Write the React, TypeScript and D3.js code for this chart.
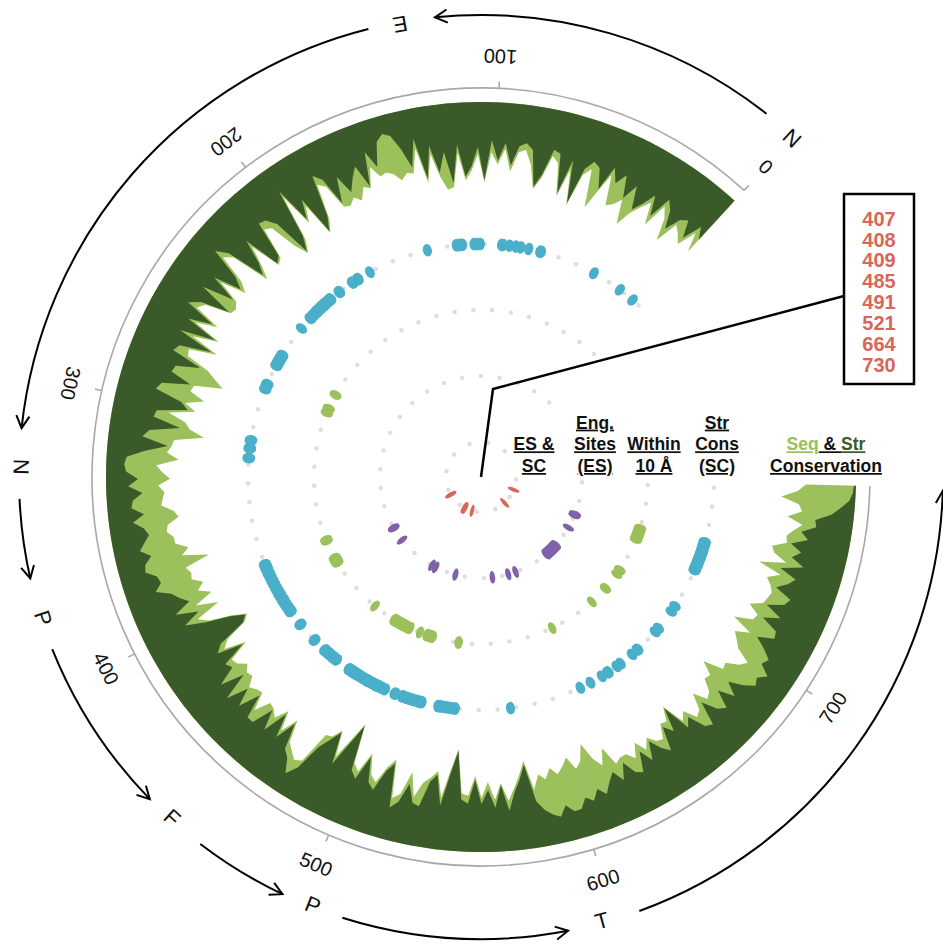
import React from 'react';
import * as d3 from 'd3';

// sequence length (residues) and step of the conservation profiles
const seqLength = 780;
const consStep = 3;

// sequence conservation (light green), one value every 3 residues from 0 to 780
const seqCons = [
  69, 50, 70, 62, 56, 80, 58, 48, 74, 52,
  62, 72, 88, 64, 72, 76, 46, 66, 86, 48,
  56, 90, 55, 84, 52, 46, 70, 82, 58, 45,
  48, 68, 46, 62, 50, 80, 52, 68, 78, 50,
  84, 86, 72, 48, 76, 40, 64, 62, 68, 60,
  56, 58, 46, 66, 62, 74, 68, 74, 72, 46,
  40, 76, 88, 52, 68, 32, 80, 92, 78, 50,
  46, 78, 82, 50, 70, 84, 44, 36, 66, 76,
  50, 74, 78, 76, 50, 44, 72, 50, 80, 54,
  84, 56, 58, 82, 92, 102, 74, 72, 88, 70,
  82, 56, 74, 80, 95, 66, 64, 60, 72, 50,
  56, 64, 52, 58, 56, 54, 66, 70, 58, 56,
  62, 62, 74, 66, 92, 66, 70, 68, 78, 70,
  82, 62, 84, 58, 68, 90, 104, 98, 74, 66,
  88, 66, 68, 76, 70, 72, 62, 66, 68, 50,
  66, 64, 58, 72, 52, 70, 48, 42, 36, 40,
  74, 76, 86, 60, 82, 102, 62, 56, 78, 58,
  52, 70, 80, 42, 48, 72, 48, 64, 70, 78,
  52, 80, 102, 58, 56, 76, 54, 70, 52, 68,
  50, 62, 74, 88, 58, 72, 66, 76, 68, 74,
  82, 68, 74, 90, 72, 62, 78, 58, 62, 62,
  54, 68, 56, 66, 58, 56, 70, 68, 82, 58,
  66, 52, 56, 72, 58, 62, 74, 72, 86, 66,
  68, 56, 50, 66, 72, 78, 64, 86, 68, 66,
  78, 66, 64, 62, 66, 72, 60, 84, 58, 72,
  76, 62, 64, 58, 50, 66, 52, 56, 74, 58,
  50
];

// structural conservation (dark green), same positions
const strCons = [
  53, 42, 62, 45, 50, 66, 48, 40, 64, 44,
  58, 68, 45, 62, 40, 52, 38, 64, 44, 40,
  50, 88, 45, 81, 42, 40, 66, 80, 44, 38,
  42, 62, 40, 58, 38, 78, 45, 64, 74, 42,
  80, 48, 68, 40, 72, 30, 58, 38, 22, 18,
  24, 48, 30, 64, 40, 50, 62, 42, 68, 38,
  30, 72, 86, 45, 64, 25, 75, 90, 50, 40,
  38, 75, 80, 42, 66, 78, 38, 26, 58, 70,
  42, 70, 38, 74, 45, 34, 66, 42, 76, 40,
  78, 46, 42, 74, 50, 48, 70, 42, 38, 66,
  74, 44, 42, 70, 40, 34, 60, 38, 20, 18,
  20, 32, 22, 36, 26, 24, 36, 24, 34, 38,
  32, 26, 36, 28, 26, 36, 38, 30, 44, 50,
  58, 40, 62, 44, 64, 88, 102, 96, 66, 58,
  84, 58, 62, 42, 66, 38, 60, 42, 64, 40,
  40, 62, 42, 68, 44, 66, 40, 34, 20, 32,
  60, 72, 84, 52, 78, 100, 55, 48, 74, 50,
  44, 66, 76, 32, 40, 60, 42, 40, 66, 74,
  44, 76, 100, 52, 48, 72, 48, 62, 44, 66,
  40, 58, 70, 84, 46, 36, 30, 26, 36, 28,
  28, 38, 32, 42, 34, 44, 52, 40, 56, 42,
  38, 58, 44, 62, 50, 42, 66, 56, 80, 50,
  58, 40, 36, 60, 44, 38, 56, 40, 54, 40,
  30, 34, 26, 38, 34, 44, 56, 40, 42, 60,
  44, 62, 46, 42, 60, 50, 44, 62, 40, 54,
  46, 58, 42, 50, 36, 38, 22, 14, 6, 3,
  2
];

// residues in each inner track
const strConsSites = [
  5, 15, 34, 69, 70, 77, 82, 85, 89, 93, 94, 107, 108, 109, 110, 111, 118, 119, 120, 121, 122, 140,
  178, 186, 187, 190, 191, 200, 201, 207, 208, 209, 211, 212, 213, 214, 215, 216, 218, 219, 220, 222,
  224, 225, 233, 253, 254, 255, 256, 257, 258, 259, 260, 261, 273, 274, 276, 277, 309, 310, 314, 315,
  320, 321, 387, 388, 389, 390, 391, 393, 394, 396, 398, 399, 401, 403, 405, 407, 408, 409, 411, 412,
  413, 415, 417, 419, 420, 421, 430, 431, 443, 444, 452, 453, 455, 457, 459, 460, 462, 471, 472, 473,
  474, 475, 476, 477, 478, 480, 482, 484, 485, 486, 488, 490, 491, 492, 493, 495, 497, 503, 504, 508,
  509, 511, 513, 515, 517, 519, 520, 521, 531, 532, 533, 535, 537, 539, 541, 542, 576, 621, 628, 636,
  640, 641, 647, 650, 659, 663, 664, 679, 682, 695, 699, 724, 725, 726, 727, 728, 729, 730, 731, 732,
  733, 734, 735, 736, 737, 738, 739, 740, 741, 742, 743
];
const within10Sites = [
  258, 259, 271, 272, 275, 276, 387, 388, 389, 404, 405, 406, 407, 408, 409, 410, 459, 479, 480, 481,
  482, 483, 484, 485, 486, 488, 489, 490, 491, 492, 494, 495, 504, 510, 511, 512, 513, 514, 515, 516,
  538, 539, 621, 662, 678, 679, 694, 698, 699, 728, 729, 730, 731, 732, 733, 734, 735, 736, 737, 738, 739
];
const engSites = [
  407, 408, 409, 429, 485, 491, 521, 574, 597, 608, 658, 660, 662, 664, 666, 668, 670, 672, 674, 676,
  678, 708, 727, 728, 729, 730
];
const esAndScSites = [407, 408, 409, 485, 491, 521, 664, 730];

const axisTicks = [0, 100, 200, 300, 400, 500, 600, 700];

// domains around the outside
const domainLabels = ['N', 'E', 'N', 'P', 'F', 'P', 'T'];
const domainLabelPos = [0, 132, 329, 377, 452, 504, 596];
const domainArrowStart = [11, 142, 339, 387, 464, 514, 608];
const domainArrowEnd = [121, 317, 364, 443, 494, 585, 779];

const trackNames = [['ES &', 'SC'], ['Eng.', 'Sites', '(ES)'], ['Within', '10 Å'], ['Str', 'Cons', '(SC)']];

const DARK = '#3b5a29';
const LIGHT = '#9cc05b';
const TEAL = '#4aafc9';
const PURPLE = '#7f62a8';
const RED = '#d9665a';
const FONT = '"Liberation Sans", Arial, Helvetica, sans-serif';

export default function App() {
  const width = 943;
  const height = 944;
  const cx = 481;
  const cy = 477;
  const rAxis = 389;
  const rOuter = 375;
  const rDomain = 462;

  // angle in degrees, clockwise from 12 o'clock, residues run counter-clockwise
  const angleDeg = d3.scaleLinear().domain([0, seqLength]).range([42.55, 42.55 - 0.399 * seqLength]);
  const ang = (p: number) => (angleDeg(p) * Math.PI) / 180;
  const rCons = d3.scaleLinear().domain([0, 125]).range([rOuter, 250]);

  const polar = (p: number, r: number): [number, number] => {
    const a = ang(p);
    return [cx + r * Math.sin(a), cy - r * Math.cos(a)];
  };

  const arcPath = (r: number, p0: number, p1: number) => {
    const path = d3.path();
    const a0 = ang(p0) - Math.PI / 2;
    const a1 = ang(p1) - Math.PI / 2;
    path.arc(cx, cy, r, a0, a1, a1 < a0);
    return path.toString();
  };

  const area = d3
    .areaRadial<{ p: number; v: number }>()
    .angle((d) => ang(d.p))
    .innerRadius((d) => rCons(d.v))
    .outerRadius(rOuter)
    .curve(d3.curveLinear);

  const seqPts = seqCons.map((v, i) => ({ p: Math.min(i * consStep, seqLength), v }));
  const strPts = strCons.map((v, i) => ({ p: Math.min(i * consStep, seqLength), v }));

  const tracks = [
    { sites: esAndScSites, r: 35, color: RED },
    { sites: engSites, r: 101, color: PURPLE },
    { sites: within10Sites, r: 167, color: LIGHT },
    { sites: strConsSites, r: 233, color: TEAL },
  ];

  const labelX = [53, 114, 173, 236];
  const lineH = 21.7;
  const lastBase = 472;

  const arrowHead = (p: number) => {
    const [tx, ty] = polar(p, rDomain);
    const a = ang(p);
    const bx = Math.cos(a);
    const by = Math.sin(a);
    const L = 14;
    const s = (28 * Math.PI) / 180;
    const v1 = [bx * Math.cos(s) - by * Math.sin(s), bx * Math.sin(s) + by * Math.cos(s)];
    const v2 = [bx * Math.cos(-s) - by * Math.sin(-s), bx * Math.sin(-s) + by * Math.cos(-s)];
    return `M${tx + L * v1[0]},${ty + L * v1[1]}L${tx},${ty}L${tx + L * v2[0]},${ty + L * v2[1]}`;
  };

  const boxX = 844;
  const boxY = 194;
  const boxW = 70;
  const boxH = 190;

  return (
    <svg
      width={width}
      height={height}
      style={{ position: 'absolute', left: 0, top: 0, background: '#fff' }}
      fontFamily={FONT}
    >
      {/* conservation profiles */}
      <path d={area(seqPts) || ''} transform={`translate(${cx},${cy})`} fill={LIGHT} />
      <path d={area(strPts) || ''} transform={`translate(${cx},${cy})`} fill={DARK} />

      {/* axis */}
      <path d={arcPath(rAxis, 0, seqLength)} fill="none" stroke="#a8a8a8" strokeWidth={1.6} />
      {axisTicks.map((t) => {
        const [x1, y1] = polar(t, rAxis);
        const [x2, y2] = polar(t, rAxis + 7);
        const [lx, ly] = polar(t, 421);
        return (
          <g key={t}>
            <line x1={x1} y1={y1} x2={x2} y2={y2} stroke="#a8a8a8" strokeWidth={1.6} />
            <text
              x={0}
              y={0}
              transform={`translate(${lx},${ly}) rotate(${angleDeg(t) + 180})`}
              textAnchor="middle"
              dominantBaseline="central"
              fontSize={20}
              fill="#111"
            >
              {t}
            </text>
          </g>
        );
      })}

      {/* domains */}
      {domainLabels.map((lab, i) => {
        const [lx, ly] = polar(domainLabelPos[i], rDomain - 2);
        return (
          <text
            key={'d' + i}
            transform={`translate(${lx},${ly}) rotate(${angleDeg(domainLabelPos[i]) + 180})`}
            textAnchor="middle"
            dominantBaseline="central"
            fontSize={22}
            fill="#111"
          >
            {lab}
          </text>
        );
      })}
      {domainArrowStart.map((s, i) => (
        <g key={'a' + i} fill="none" stroke="#000" strokeWidth={2}>
          <path d={arcPath(rDomain, s, domainArrowEnd[i])} />
          <path d={arrowHead(domainArrowEnd[i])} />
        </g>
      ))}

      {/* inner tracks */}
      {tracks.map((tr, k) => (
        <g key={'t' + k}>
          <path
            d={arcPath(tr.r, 0, seqLength)}
            fill="none"
            stroke="#dedede"
            strokeWidth={4.5}
            strokeLinecap="round"
            strokeDasharray="0 18.8"
          />
          {tr.sites.map((p, j) => {
            const [x, y] = polar(p, tr.r);
            return (
              <ellipse
                key={j}
                cx={x}
                cy={y}
                rx={1.5 + 0.013 * tr.r}
                ry={6.3}
                fill={tr.color}
                transform={`rotate(${angleDeg(p)},${x},${y})`}
              />
            );
          })}
        </g>
      ))}

      {/* track labels */}
      {trackNames.map((lines, k) => (
        <text key={'l' + k} fontSize={17.5} fontWeight="bold" textAnchor="middle" fill="#111">
          {lines.map((ln, j) => (
            <tspan
              key={j}
              x={cx + labelX[k]}
              y={lastBase - (lines.length - 1 - j) * lineH}
              style={{ textDecoration: 'underline' }}
            >
              {ln}
            </tspan>
          ))}
        </text>
      ))}
      <text fontSize={17.5} fontWeight="bold" textAnchor="middle">
        <tspan x={cx + 345} y={lastBase - lineH}>
          <tspan fill={LIGHT} style={{ textDecoration: 'underline' }}>Seq</tspan>
          <tspan fill="#111" style={{ textDecoration: 'underline' }}> &amp; </tspan>
          <tspan fill={DARK} style={{ textDecoration: 'underline' }}>Str</tspan>
        </tspan>
        <tspan x={cx + 345} y={lastBase} fill="#111" style={{ textDecoration: 'underline' }}>
          Conservation
        </tspan>
      </text>

      {/* callout */}
      <polyline
        points={`${boxX},${boxY + 102} ${cx + 12},${cy - 88} ${cx},${cy}`}
        fill="none"
        stroke="#000"
        strokeWidth={2.5}
      />
      <rect x={boxX} y={boxY} width={boxW} height={boxH} fill="#fff" stroke="#000" strokeWidth={2.5} />
      {esAndScSites.map((s, i) => (
        <text
          key={'c' + i}
          x={boxX + boxW / 2}
          y={boxY + 31.7 + i * 20.86}
          textAnchor="middle"
          fontSize={20}
          fontWeight="bold"
          fill={RED}
        >
          {s}
        </text>
      ))}
    </svg>
  );
}
